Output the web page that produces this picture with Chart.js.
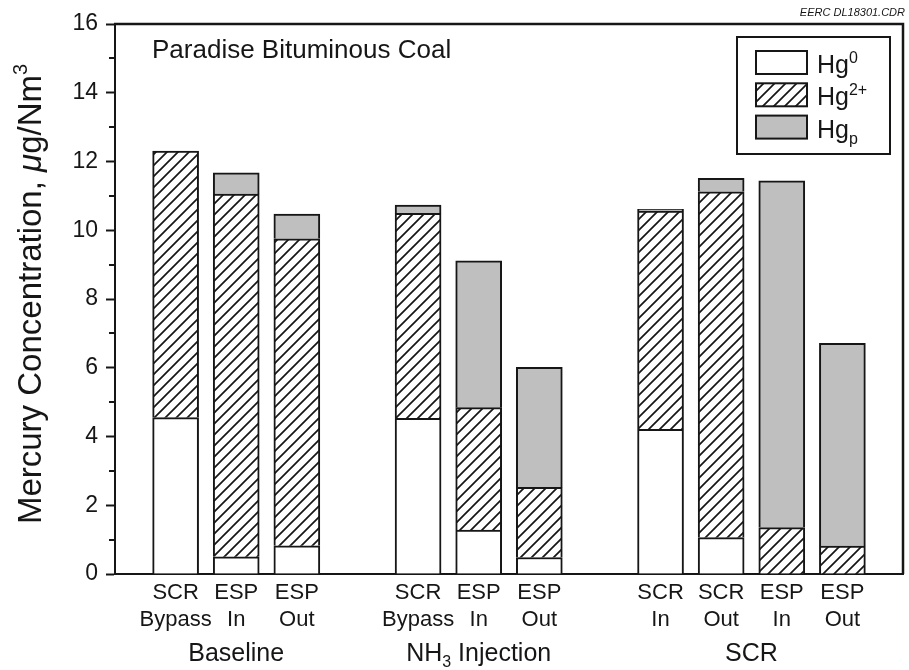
<!DOCTYPE html>
<html>
<head>
<meta charset="utf-8">
<script src="https://cdn.jsdelivr.net/npm/chart.js@4.4.1/dist/chart.umd.min.js"></script>
<style>
  html, body { margin: 0; padding: 0; background: #fff; }
  #c { display: block; }
</style>
</head>
<body>
<canvas id="c" width="909" height="670"></canvas>
<script>
// Sampling locations (blank slots separate the three test conditions)
const categories = ['', ['SCR', 'Bypass'], ['ESP', 'In'], ['ESP', 'Out'], '',
                    ['SCR', 'Bypass'], ['ESP', 'In'], ['ESP', 'Out'], '',
                    ['SCR', 'In'], ['SCR', 'Out'], ['ESP', 'In'], ['ESP', 'Out'], ''];

// Mercury species, µg/Nm³
const hgElemental = [null, 4.55, 0.50, 0.82, null, 4.53, 1.28, 0.48, null, 4.21, 1.06, 0.00, 0.00, null];
const hgOxidized  = [null, 7.75, 10.55, 8.93, null, 5.96, 3.56, 2.04, null, 6.35, 10.06, 1.35, 0.81, null];
const hgParticle  = [null, 0.00, 0.62, 0.72, null, 0.24, 4.27, 3.49, null, 0.05, 0.39, 10.09, 5.90, null];

const seriesNames = ['Hg^{0}', 'Hg^{2+}', 'Hg_{p}'];

// Test conditions and the slots they span
const groupNames = ['Baseline', 'NH_{3} Injection', 'SCR'];
const groupFirst = [1, 5, 9];
const groupLast  = [3, 7, 12];

const yMin = 0, yMax = 16, yMajorStep = 2, yMinorStep = 1;

const noteText  = 'Paradise Bituminous Coal';
const axisTitle = 'Mercury Concentration, *{μ}g/Nm^{3}';
const fileTag   = 'EERC DL18301.CDR';

const FONT = "'Liberation Sans', Arial, Helvetica, sans-serif";
const INK = '#161616';
const GREY = '#bfbfbf';

// Diagonal "///" hatch used for oxidized mercury
function makeHatch() {
  const s = 11;
  const c = document.createElement('canvas');
  c.width = s; c.height = s;
  const g = c.getContext('2d');
  g.fillStyle = '#fff';
  g.fillRect(0, 0, s, s);
  g.strokeStyle = INK;
  g.lineWidth = 1.7;
  g.beginPath();
  g.moveTo(-1, s + 1); g.lineTo(s + 1, -1);
  g.moveTo(-2, 2); g.lineTo(2, -2);
  g.moveTo(s - 2, s + 2); g.lineTo(s + 2, s - 2);
  g.stroke();
  return g.createPattern(c, 'repeat');
}
const hatch = makeHatch();

// Text with ^{sup}, _{sub} and *{italic} runs
function parseRich(s) {
  const out = [];
  const re = /([\^_*])\{([^}]*)\}/g;
  let last = 0, m;
  while ((m = re.exec(s))) {
    if (m.index > last) out.push({ t: s.slice(last, m.index), k: 'n' });
    out.push({ t: m[2], k: m[1] === '^' ? 'sup' : m[1] === '_' ? 'sub' : 'it' });
    last = re.lastIndex;
  }
  if (last < s.length) out.push({ t: s.slice(last), k: 'n' });
  return out;
}
function runFont(k, size) {
  if (k === 'sup' || k === 'sub') return `${Math.round(size * 0.62)}px ${FONT}`;
  if (k === 'it') return `italic ${size}px ${FONT}`;
  return `${size}px ${FONT}`;
}
function richWidth(ctx, s, size) {
  let w = 0;
  for (const r of parseRich(s)) { ctx.font = runFont(r.k, size); w += ctx.measureText(r.t).width; }
  return w;
}
function drawRich(ctx, s, x, y, size, align) {
  const w = richWidth(ctx, s, size);
  let cx = align === 'center' ? x - w / 2 : align === 'right' ? x - w : x;
  ctx.textAlign = 'left';
  ctx.textBaseline = 'alphabetic';
  for (const r of parseRich(s)) {
    ctx.font = runFont(r.k, size);
    const dy = r.k === 'sup' ? -size * 0.42 : r.k === 'sub' ? size * 0.24 : 0;
    ctx.fillText(r.t, cx, y + dy);
    cx += ctx.measureText(r.t).width;
  }
}

const decor = {
  id: 'decor',
  afterDraw(chart) {
    const { ctx, chartArea: a, scales } = chart;
    const y = scales.y, x = scales.x;
    ctx.save();
    ctx.fillStyle = INK;
    ctx.strokeStyle = INK;

    // frame: top and right edges
    ctx.lineWidth = 2.5;
    ctx.beginPath();
    ctx.moveTo(a.left - 1, a.top); ctx.lineTo(a.right, a.top); ctx.lineTo(a.right, a.bottom);
    ctx.stroke();

    // minor ticks on the value axis
    ctx.lineWidth = 2;
    for (let v = yMin + yMinorStep; v < yMax; v += yMinorStep) {
      if (v % yMajorStep === 0) continue;
      const py = Math.round(y.getPixelForValue(v));
      ctx.beginPath(); ctx.moveTo(a.left - 6, py); ctx.lineTo(a.left, py); ctx.stroke();
    }

    // value axis title
    ctx.save();
    ctx.translate(41, (a.top + a.bottom) / 2 - 5);
    ctx.rotate(-Math.PI / 2);
    drawRich(ctx, axisTitle, 0, 0, 33, 'center');
    ctx.restore();

    // condition names under each group
    groupNames.forEach((name, i) => {
      const cx = (x.getPixelForValue(groupFirst[i]) + x.getPixelForValue(groupLast[i])) / 2;
      drawRich(ctx, name, cx, a.bottom + 87, 25, 'center');
    });

    // coal note
    drawRich(ctx, noteText, a.left + 37, a.top + 34, 26, 'left');

    // drawing tag
    ctx.font = `italic 11px ${FONT}`;
    ctx.textAlign = 'right';
    ctx.textBaseline = 'alphabetic';
    ctx.fillText(fileTag, a.right + 2, a.top - 8);

    // legend
    const lx = 737, ly = 37, lw = 153, lh = 117;
    ctx.fillStyle = '#fff';
    ctx.fillRect(lx, ly, lw, lh);
    ctx.lineWidth = 2;
    ctx.strokeRect(lx, ly, lw, lh);
    const fills = ['#ffffff', hatch, GREY];
    seriesNames.forEach((name, i) => {
      const sy = ly + 14 + i * 32.3;
      ctx.fillStyle = fills[i];
      ctx.fillRect(756, sy, 51, 23);
      ctx.strokeStyle = INK;
      ctx.lineWidth = 2;
      ctx.strokeRect(756, sy, 51, 23);
      ctx.fillStyle = INK;
      drawRich(ctx, name, 817, sy + 22, 25, 'left');
    });
    ctx.restore();
  }
};

const common = { borderColor: INK, borderWidth: 2, borderSkipped: 'start', barThickness: 46, stack: 'hg' };

new Chart(document.getElementById('c'), {
  type: 'bar',
  data: {
    labels: categories,
    datasets: [
      { ...common, label: seriesNames[0], data: hgElemental, backgroundColor: '#ffffff' },
      { ...common, label: seriesNames[1], data: hgOxidized, backgroundColor: hatch },
      { ...common, label: seriesNames[2], data: hgParticle, backgroundColor: GREY }
    ]
  },
  options: {
    responsive: false,
    animation: false,
    devicePixelRatio: 1,
    layout: { padding: { top: 24, right: 4, left: 0, bottom: 0 } },
    plugins: { legend: { display: false }, tooltip: { enabled: false } },
    scales: {
      x: {
        stacked: true,
        offset: false,
        grid: { display: false, drawTicks: false },
        border: { display: true, color: INK, width: 2 },
        ticks: {
          autoSkip: false, maxRotation: 0, minRotation: 0, padding: 6,
          color: INK, font: { family: FONT, size: 22, lineHeight: 1.2 }
        },
        afterFit(s) { s.height = 96; }
      },
      y: {
        stacked: true,
        min: yMin, max: yMax,
        grid: { display: true, drawOnChartArea: false, drawTicks: true, tickLength: 9, tickWidth: 2, tickColor: INK },
        border: { display: true, color: INK, width: 2 },
        ticks: {
          stepSize: yMajorStep, padding: 8, color: INK,
          font: { family: FONT, size: 23 }
        },
        afterFit(s) { s.width = 115; }
      }
    }
  },
  plugins: [decor]
});
</script>
</body>
</html>
